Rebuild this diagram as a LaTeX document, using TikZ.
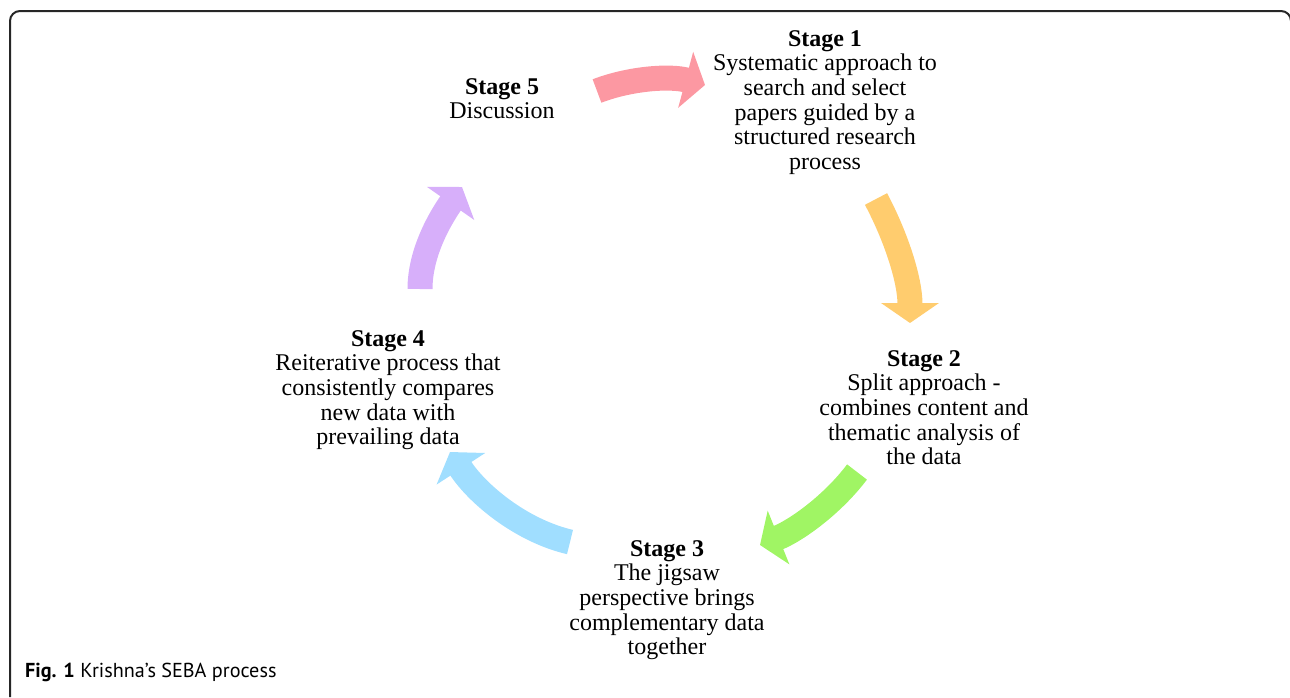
\documentclass[tikz,border=0pt]{standalone}
\usepackage{fontspec}
\setmainfont{Liberation Serif}
\newfontfamily\capfont{PT Sans}
\usetikzlibrary{arrows.meta}

\definecolor{arrpink}{RGB}{252,152,162}
\definecolor{arrorange}{RGB}{255,204,110}
\definecolor{arrgreen}{RGB}{160,245,100}
\definecolor{arrblue}{RGB}{160,222,255}
\definecolor{arrpurple}{RGB}{215,175,250}

\begin{document}
\begin{tikzpicture}[x=1pt, y=-1pt,
    stage/.style={align=center, inner sep=0pt, anchor=north, font=\fontsize{24}{24.7}\selectfont},
    cyc/.style={line width=25pt, -{Triangle[length=20pt 0 0, width=57pt 0 0]}},
    frame/.style={draw=black!85, line width=2pt, rounded corners=10pt}
  ]
    \useasboundingbox (0,0) rectangle (1290,697);

    % Cadre
    \draw[frame] (10,697) -- (10,11) -- (1291,11) -- (1291,697);

    % Stages
    \node[stage] (s1) at (825,30) {\textbf{Stage 1}\\Systematic approach to\\search and select\\papers guided by a\\structured research\\process};
    \node[stage] (s2) at (924,350) {\textbf{Stage 2}\\Split approach -\\combines content and\\thematic analysis of\\the data};
    \node[stage] (s3) at (667,540) {\textbf{Stage 3}\\The jigsaw\\perspective brings\\complementary data\\together};
    \node[stage] (s4) at (388,330) {\textbf{Stage 4}\\Reiterative process that\\consistently compares\\new data with\\prevailing data};
    \node[stage] (s5) at (502,78) {\textbf{Stage 5}\\Discussion};

    % Arrow ends
    \coordinate (t5) at (597,91);  \coordinate (h5) at (705,85);
    \coordinate (t1) at (876,199); \coordinate (h1) at (910,323);
    \coordinate (t2) at (857,472); \coordinate (h2) at (760,545);
    \coordinate (t3) at (570,542); \coordinate (h3) at (450,452);
    \coordinate (t4) at (420,289); \coordinate (h4) at (462,187);

    % Arrows
    \draw[cyc, arrpink] (t5) .. controls +(-21:36) and +(195:36) .. (h5);
    \draw[cyc, arrorange] (t1) .. controls +(62:43) and +(270:43) .. (h1);
    \draw[cyc, arrgreen] (t2) .. controls +(127:40) and +(338:40) .. (h2);
    \draw[cyc, arrblue] (t3) .. controls +(193:50) and +(57:50) .. (h3);
    \draw[cyc, arrpurple] (t4) .. controls +(270:37) and +(125:37) .. (h4);

    % Legende
    \node[anchor=base west, inner sep=0pt, font=\capfont\fontsize{20.2}{22}\selectfont] (cap) at (25,677.5) {\textbf{Fig. 1} Krishna’s SEBA process};
\end{tikzpicture}
\end{document}
